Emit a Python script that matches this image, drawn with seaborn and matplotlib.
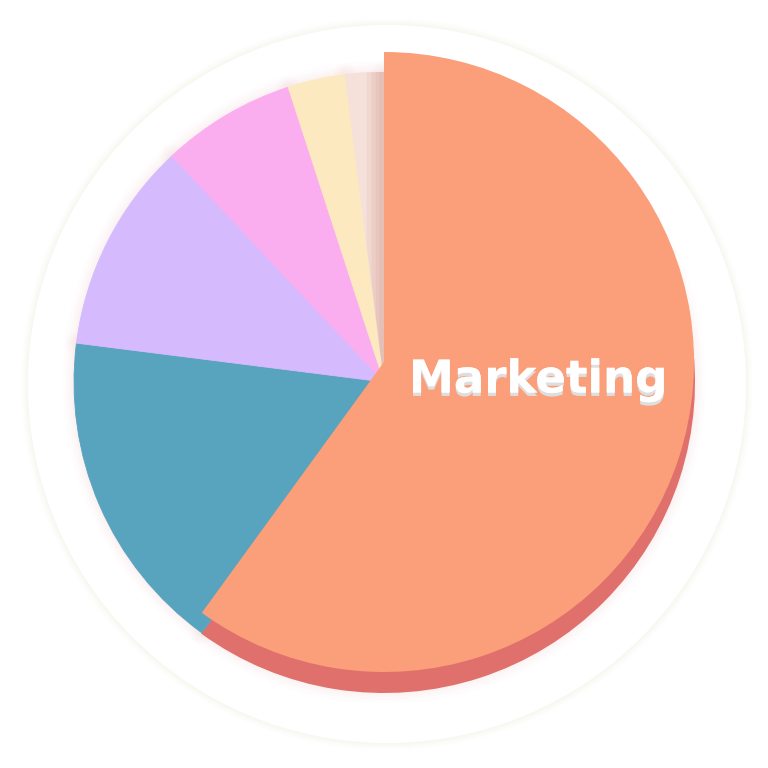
import matplotlib
matplotlib.use("Agg")
import matplotlib.pyplot as plt
import matplotlib.patheffects as pe
from matplotlib.patches import Circle
import seaborn as sns

# share of budget per department
departments = ["Marketing", "Sales", "R&D", "Operations", "HR", "Legal"]
shares = [60, 17, 11, 7, 3, 2]
colors = ["#FB9E7A", "#58A3BE", "#D5BAFE", "#FBAEEF", "#FCE9C0", "#F5E1DA"]
highlight_side = "#E0706C"
highlight = "Marketing"

sns.set_theme(style="white")
plt.rcParams['font.family'] = ['DejaVu Sans']

W = 768
fig = plt.figure(figsize=(7.68, 7.68), dpi=100)
ax = fig.add_axes([0, 0, 1, 1])

# pixel layout -> data coords (y flipped)
cx = 384
base_y = W - 382
raised_y = W - 362
radius = 310

# background plate with a soft warm halo
plate_c = (387, W - 384)
for i in range(8):
    ax.add_patch(Circle(plate_c, 359 + i * 1.0, color="#EBC3B5", alpha=0.014, lw=0, zorder=0))
ax.add_patch(Circle(plate_c, 359, color="white", lw=0, zorder=0.5))

hi = departments.index(highlight)
n = len(shares)

# soft shadow around the whole pie
for lw in [16, 11, 7, 4]:
    ax.pie(shares, center=(cx, base_y), radius=radius, startangle=90, counterclock=False,
           colors=["none"] * n,
           wedgeprops=dict(edgecolor="#EAB9AA", linewidth=lw, alpha=0.035, zorder=1,
                           joinstyle="round"))

# extruded side of the highlighted slice (same footprint as the other slices)
side_cols = ["none"] * n
side_cols[hi] = highlight_side
ax.pie(shares, center=(cx, base_y), radius=radius + 1, startangle=90, counterclock=False,
       colors=side_cols, wedgeprops=dict(linewidth=0, zorder=2))

# the other slices
base_cols = list(colors)
base_cols[hi] = "none"
base_wedges, _ = ax.pie(shares, center=(cx, base_y), radius=radius, startangle=90,
                        counterclock=False, colors=base_cols,
                        wedgeprops=dict(linewidth=0.6, zorder=3))
for w, c in zip(base_wedges, base_cols):
    w.set_edgecolor(c)

# drop shadow of the raised slice, seen on the pale neighbour slice
neighbour = base_wedges[-1]
for lw in [22, 15, 9, 4]:
    wedges, _ = ax.pie(shares, center=(cx - 2, raised_y), radius=radius, startangle=90,
                       counterclock=False, colors=["none"] * n,
                       wedgeprops=dict(linewidth=lw, alpha=0.10, zorder=4,
                                       joinstyle="round"))
    for k, w in enumerate(wedges):
        w.set_edgecolor("#C98677" if k == hi else "none")
        w.set_clip_on(True)
        w.set_clip_path(neighbour)

# raised slice
top_cols = ["none"] * n
top_cols[hi] = colors[hi]
ax.pie(shares, center=(cx, raised_y), radius=radius, startangle=90, counterclock=False,
       colors=top_cols, wedgeprops=dict(linewidth=0, zorder=5))

ax.text(538, W - 380, highlight, color="white", fontsize=32.5, fontweight="bold",
        ha="center", va="center", zorder=6,
        path_effects=[pe.withSimplePatchShadow(offset=(0, -2.5), shadow_rgbFace="#DEDEDE", alpha=1),
                      pe.Normal()])

ax.set_xlim(0, W)
ax.set_ylim(0, W)
ax.set_aspect("equal")
ax.axis("off")
fig.patch.set_facecolor("white")

fig.savefig("out.png", dpi=100, facecolor="white")
